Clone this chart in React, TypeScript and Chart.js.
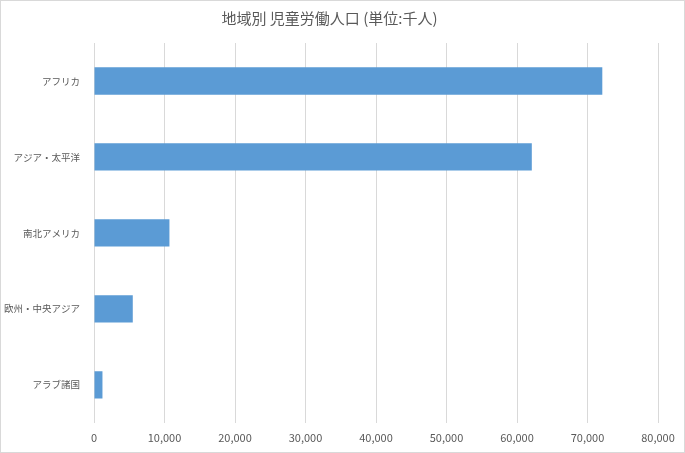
import React, { useEffect, useRef } from "react";
import { Chart, ChartConfiguration, registerables } from "chart.js";

Chart.register(...registerables);

const regions = ["アフリカ", "アジア・太平洋", "南北アメリカ", "欧州・中央アジア", "アラブ諸国"];
const childLabour = [72100, 62100, 10700, 5500, 1200];
const titleText = "地域別 児童労働人口 (単位:千人)";

const fontFamily = "'Noto Sans CJK JP', 'Noto Sans', sans-serif";
const textColor = "#595959";

const App: React.FC = () => {
  const canvasRef = useRef<HTMLCanvasElement>(null);
  const chartRef = useRef<Chart | null>(null);

  useEffect(() => {
    if (!canvasRef.current) return;
    if (chartRef.current) chartRef.current.destroy();

    const config = {
      type: "bar",
      data: {
        labels: regions,
        datasets: [
          {
            data: childLabour,
            backgroundColor: "#5b9bd5",
            borderWidth: 0,
            barPercentage: 0.36,
            categoryPercentage: 1,
          },
        ],
      },
      options: {
        indexAxis: "y",
        responsive: true,
        maintainAspectRatio: false,
        animation: false,
        layout: { padding: { left: 0, right: 26, top: 0, bottom: 0 } },
        plugins: {
          legend: { display: false },
          tooltip: { enabled: false },
          title: {
            display: true,
            text: titleText,
            color: textColor,
            font: { family: fontFamily, size: 15, weight: "normal" },
            padding: { top: 8, bottom: 16 },
          },
        },
        scales: {
          x: {
            min: 0,
            max: 80000,
            ticks: {
              stepSize: 10000,
              color: textColor,
              font: { family: fontFamily, size: 11 },
              padding: 8,
              maxRotation: 0,
              callback: (v: number) => v.toLocaleString("en-US"),
            },
            grid: { color: "#d9d9d9", drawTicks: false },
            border: { display: false },
          },
          y: {
            afterFit: (scale: any) => {
              scale.width = 93;
            },
            ticks: {
              color: textColor,
              font: { family: fontFamily, size: 9.5 },
              padding: 6,
            },
            grid: { display: false },
            border: { display: false },
          },
        },
      },
    };

    chartRef.current = new Chart(canvasRef.current, config as unknown as ChartConfiguration);

    return () => {
      if (chartRef.current) {
        chartRef.current.destroy();
        chartRef.current = null;
      }
    };
  }, []);

  return (
    <div
      style={{
        position: "fixed",
        left: 0,
        top: 0,
        width: 685,
        height: 453,
        boxSizing: "border-box",
        border: "1px solid #d9d9d9",
        background: "#fff",
      }}
    >
      <canvas ref={canvasRef} />
    </div>
  );
};

export default App;
